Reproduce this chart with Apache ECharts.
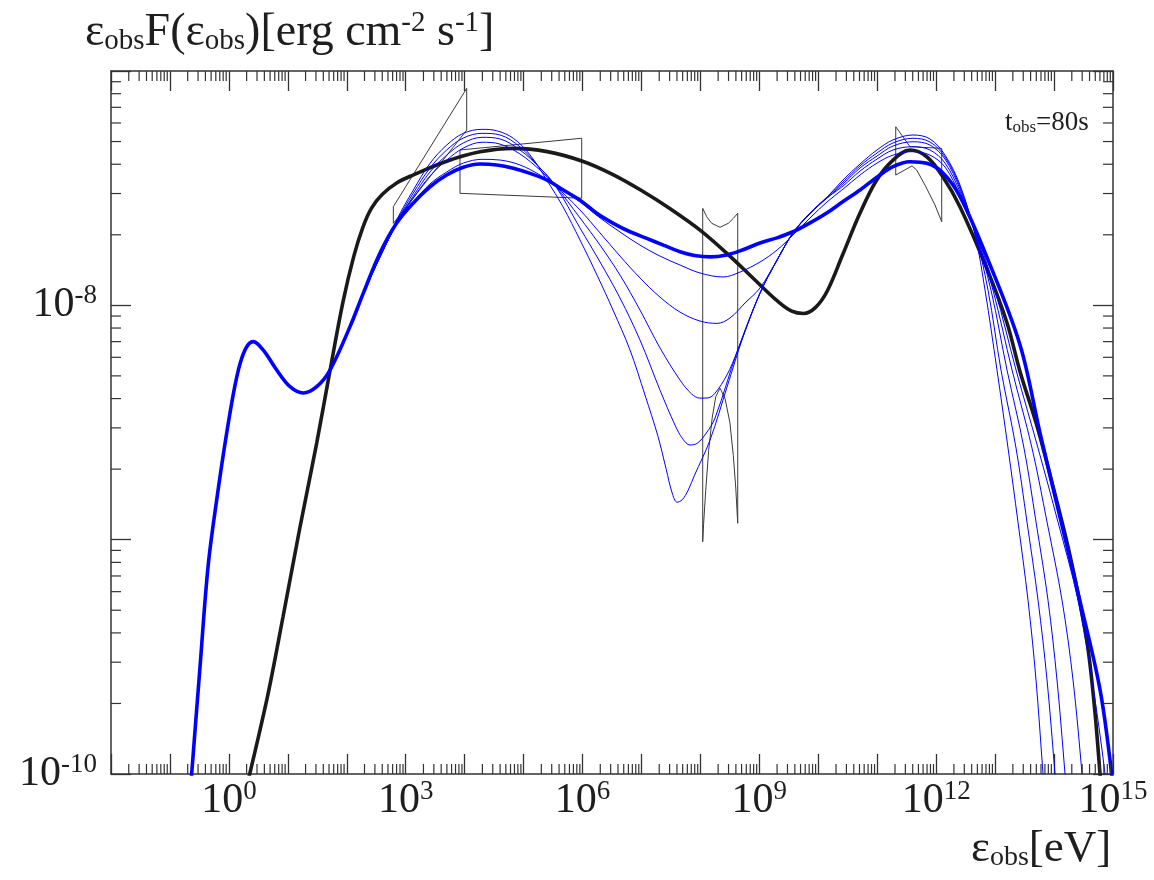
<!DOCTYPE html>
<html><head><meta charset="utf-8">
<script src="https://cdn.jsdelivr.net/npm/echarts@6/dist/echarts.min.js"></script>
<style>html,body{margin:0;padding:0;background:#fff}#c{width:1154px;height:880px}</style>
</head><body><div id="c"></div>
<script>
// ---- DATA: pairs of [log10(E_obs / eV), log10(E F(E) / erg cm^-2 s^-1)] ----
const blackThick = [[0.21,-10.15],[0.642,-9.685],[0.918,-9.330],[1.207,-8.946],[1.490,-8.588],[1.700,-8.300],[1.936,-7.985],[2.120,-7.790],[2.276,-7.665],[2.420,-7.585],[2.600,-7.527],[2.847,-7.478],[3.124,-7.444],[3.696,-7.385],[4.261,-7.345],[4.821,-7.330],[5.400,-7.344],[6.000,-7.385],[6.500,-7.440],[7.000,-7.510],[7.500,-7.590],[8.000,-7.680],[8.500,-7.790],[9.000,-7.910],[9.300,-7.980],[9.550,-8.025],[9.750,-8.035],[9.950,-8.010],[10.150,-7.940],[10.420,-7.780],[10.708,-7.606],[10.991,-7.465],[11.268,-7.380],[11.556,-7.337],[11.840,-7.366],[12.116,-7.452],[12.405,-7.580],[12.857,-7.841],[13.197,-8.071],[13.423,-8.283],[13.706,-8.511],[13.982,-8.773],[14.271,-9.068],[14.554,-9.429],[14.680,-9.700],[14.780,-10.0],[14.82,-10.15]];

const blueThick = [[-0.678,-10.15],[-0.490,-9.544],[-0.354,-9.117],[-0.207,-8.831],[-0.037,-8.545],[0.133,-8.306],[0.273,-8.191],[0.414,-8.155],[0.584,-8.191],[0.811,-8.276],[1.037,-8.347],[1.263,-8.374],[1.490,-8.347],[1.716,-8.276],[2.055,-8.091],[2.281,-7.948],[2.564,-7.777],[2.847,-7.649],[3.129,-7.563],[3.412,-7.494],[3.696,-7.444],[3.977,-7.411],[4.261,-7.397],[4.544,-7.401],[4.826,-7.415],[5.109,-7.437],[5.392,-7.465],[5.674,-7.508],[5.957,-7.551],[6.241,-7.607],[6.522,-7.650],[6.806,-7.686],[7.089,-7.714],[7.371,-7.743],[7.654,-7.771],[7.900,-7.787],[8.163,-7.793],[8.446,-7.785],[8.700,-7.765],[9.011,-7.734],[9.300,-7.712],[9.571,-7.686],[9.860,-7.648],[10.143,-7.606],[10.420,-7.557],[10.708,-7.508],[11.000,-7.452],[11.268,-7.408],[11.556,-7.387],[11.840,-7.394],[12.116,-7.435],[12.405,-7.536],[12.857,-7.792],[13.423,-8.169],[13.762,-8.545],[14.101,-8.904],[14.440,-9.262],[14.780,-9.640],[14.978,-10.0],[15.03,-10.15]];

const blueThin1 = [[2.281,-7.948],[2.847,-7.636],[3.129,-7.508],[3.412,-7.394],[3.696,-7.316],[3.977,-7.266],[4.295,-7.249],[4.544,-7.255],[4.826,-7.287],[5.109,-7.358],[5.392,-7.465],[5.669,-7.580],[5.957,-7.721],[6.246,-7.871],[6.517,-8.020],[6.806,-8.191],[7.060,-8.383],[7.281,-8.560],[7.420,-8.700],[7.520,-8.800],[7.603,-8.840],[7.690,-8.830],[7.790,-8.790],[7.900,-8.725],[8.163,-8.575],[8.451,-8.349],[8.723,-8.135],[9.011,-7.948],[9.300,-7.807],[9.571,-7.691],[9.860,-7.606],[10.148,-7.538],[10.419,-7.465],[10.708,-7.397],[10.996,-7.337],[11.268,-7.294],[11.607,-7.273],[11.895,-7.290],[12.150,-7.359],[12.405,-7.487],[12.659,-7.700],[12.829,-7.935],[13.032,-8.276],[13.219,-8.609],[13.388,-8.925],[13.558,-9.258],[13.694,-9.599],[13.813,-10.0],[13.86,-10.15]];

const blueThin2 = [[2.281,-7.948],[2.847,-7.644],[3.129,-7.521],[3.412,-7.414],[3.696,-7.337],[3.977,-7.286],[4.295,-7.266],[4.600,-7.273],[4.939,-7.324],[5.279,-7.414],[5.533,-7.487],[5.957,-7.670],[6.297,-7.815],[6.636,-7.969],[6.975,-8.148],[7.315,-8.362],[7.569,-8.511],[7.700,-8.570],[7.824,-8.596],[7.950,-8.588],[8.100,-8.545],[8.248,-8.481],[8.621,-8.199],[9.011,-7.948],[9.300,-7.807],[9.571,-7.691],[9.860,-7.606],[10.148,-7.538],[10.419,-7.474],[10.708,-7.405],[10.996,-7.350],[11.268,-7.307],[11.607,-7.287],[11.895,-7.303],[12.150,-7.367],[12.405,-7.495],[12.659,-7.691],[12.880,-7.935],[13.100,-8.276],[13.355,-8.609],[13.541,-8.925],[13.728,-9.258],[13.881,-9.599],[14.016,-10.0],[14.06,-10.15]];

const blueThin3 = [[2.281,-7.948],[2.847,-7.649],[3.129,-7.534],[3.412,-7.431],[3.696,-7.359],[3.977,-7.307],[4.295,-7.283],[4.600,-7.290],[4.939,-7.337],[5.279,-7.414],[5.533,-7.487],[5.957,-7.627],[6.297,-7.743],[6.636,-7.871],[6.975,-8.020],[7.315,-8.182],[7.654,-8.319],[7.850,-8.378],[7.993,-8.396],[8.130,-8.395],[8.248,-8.375],[8.451,-8.297],[8.621,-8.199],[9.011,-7.948],[9.300,-7.807],[9.571,-7.691],[9.860,-7.606],[10.148,-7.542],[10.419,-7.482],[10.708,-7.414],[10.996,-7.363],[11.268,-7.320],[11.607,-7.302],[11.895,-7.316],[12.150,-7.376],[12.405,-7.504],[12.659,-7.687],[12.930,-7.935],[13.202,-8.276],[13.490,-8.609],[13.694,-8.925],[13.897,-9.258],[14.050,-9.599],[14.186,-10.0],[14.23,-10.15]];

const blueThin4 = [[2.281,-7.948],[2.847,-7.649],[3.129,-7.542],[3.412,-7.448],[3.696,-7.380],[3.977,-7.329],[4.295,-7.304],[4.600,-7.312],[4.939,-7.354],[5.279,-7.423],[5.533,-7.487],[5.957,-7.593],[6.297,-7.691],[6.636,-7.790],[6.975,-7.883],[7.315,-7.965],[7.654,-8.029],[7.993,-8.067],[8.282,-8.077],[8.502,-8.054],[8.757,-7.990],[9.011,-7.926],[9.300,-7.807],[9.571,-7.691],[9.860,-7.610],[10.148,-7.542],[10.419,-7.491],[10.708,-7.427],[10.996,-7.376],[11.268,-7.337],[11.607,-7.323],[11.895,-7.337],[12.150,-7.393],[12.405,-7.516],[12.659,-7.683],[12.964,-7.935],[13.287,-8.276],[13.626,-8.609],[13.881,-8.925],[14.135,-9.258],[14.322,-9.599],[14.475,-10.0],[14.52,-10.15]];

const blueThin5 = [[2.281,-7.948],[2.847,-7.649],[3.129,-7.559],[3.412,-7.482],[3.696,-7.431],[3.977,-7.393],[4.295,-7.377],[4.600,-7.380],[4.939,-7.401],[5.279,-7.444],[5.533,-7.487],[5.957,-7.559],[6.297,-7.627],[6.636,-7.687],[6.975,-7.743],[7.315,-7.790],[7.654,-7.828],[7.993,-7.862],[8.384,-7.879],[8.672,-7.858],[9.011,-7.815],[9.300,-7.764],[9.571,-7.700],[9.860,-7.627],[10.148,-7.559],[10.419,-7.504],[10.708,-7.444],[10.996,-7.393],[11.268,-7.359],[11.607,-7.344],[11.895,-7.359],[12.150,-7.410],[12.405,-7.529],[12.659,-7.679],[12.998,-7.935],[13.355,-8.276],[13.728,-8.609],[14.067,-8.925],[14.407,-9.258],[14.644,-9.599],[14.865,-10.0],[14.91,-10.15]];

// observational butterflies / boxes (closed outlines)
const xrayButterfly = [[2.790,-7.650],[2.790,-7.579],[4.035,-7.074],[4.035,-7.252],[2.790,-7.650]];
const hardXBox = [[3.921,-7.337],[5.986,-7.287],[5.986,-7.543],[3.921,-7.522],[3.921,-7.337]];
const latButterfly = [[8.039,-7.586],[8.107,-7.622],[8.192,-7.650],[8.333,-7.667],[8.473,-7.650],[8.558,-7.629],[8.633,-7.607],[8.633,-8.930],[8.600,-8.780],[8.558,-8.640],[8.500,-8.500],[8.420,-8.400],[8.333,-8.353],[8.260,-8.390],[8.200,-8.480],[8.140,-8.620],[8.090,-8.790],[8.055,-8.930],[8.039,-9.009],[8.039,-7.586]];
const tevButterfly = [[11.314,-7.238],[11.556,-7.323],[12.094,-7.330],[12.094,-7.643],[11.980,-7.572],[11.811,-7.487],[11.670,-7.423],[11.590,-7.405],[11.314,-7.444],[11.314,-7.238]];

const xLabelDecades = [0, 3, 6, 9, 12, 15];
const yLabelDecades = [-10, -8];
const xDecadeRange = [-2, 15];
const yDecadeRange = [-10, -7];

// ---- chart ----
const X_MIN = Math.pow(10, xDecadeRange[0]), X_MAX = Math.pow(10, xDecadeRange[1]);
const Y_MIN = Math.pow(10, yDecadeRange[0]), Y_MAX = Math.pow(10, yDecadeRange[1]);
const AX = '#333';
const FONT = 'Liberation Serif';
const TXT = '#1e1e1e';
const toPts = arr => arr.map(p => [Math.pow(10, p[0]), Math.pow(10, p[1])]);

const xMinor = [], yMinor = [];
for (let k = xDecadeRange[0]; k < xDecadeRange[1]; k++) for (let m = 2; m <= 9; m++) xMinor.push([m * Math.pow(10, k), Y_MIN]);
for (let k = yDecadeRange[0]; k < yDecadeRange[1]; k++) for (let m = 2; m <= 9; m++) yMinor.push([X_MIN, m * Math.pow(10, k)]);
const MINOR = 10, MAJOR = 20;

function rich(size) {
  const s = Math.round(size * 0.62);
  return {
    t: { fontFamily: FONT, fontSize: size, fontWeight: 'normal', color: TXT },
    b: { fontFamily: FONT, fontSize: s, fontWeight: 'normal', color: TXT, padding: [Math.round(size * 0.38), 0, 0, 0] },
    p: { fontFamily: FONT, fontSize: s, fontWeight: 'normal', color: TXT, padding: [0, 0, Math.round(size * 0.42), 0] }
  };
}

function axisCommon(extra) {
  return Object.assign({
    type: 'log', logBase: 10, interval: 1,
    axisLine: { show: true, lineStyle: { color: AX, width: 1.5 } },
    axisTick: { show: true, inside: true, length: MAJOR, lineStyle: { color: AX, width: 1.3 } },
    splitLine: { show: false }, minorTick: { show: false }, minorSplitLine: { show: false }
  }, extra);
}

const lineSeries = (name, arr, color, width) => ({
  name, type: 'line', data: toPts(arr), showSymbol: false, symbol: 'none',
  smooth: 0.35, clip: true, lineStyle: { color, width }, itemStyle: { color }, z: 3
});
const shapeSeries = (name, arr) => ({
  name, type: 'line', data: toPts(arr), showSymbol: false, symbol: 'none',
  smooth: false, clip: true, lineStyle: { color: '#3a3a3a', width: 1 }, z: 2
});

const chart = echarts.init(document.getElementById('c'), null, { renderer: 'canvas' });
chart.setOption({
  animation: false,
  backgroundColor: '#fff',
  title: [
    { text: '{t|ε}{b|obs}{t|F(ε}{b|obs}{t|)[erg cm}{p|-2}{t| s}{p|-1}{t|]}', left: 80, top: 4, textStyle: { fontWeight: 'normal', rich: rich(46) } },
    { text: '{t|ε}{b|obs}{t|[eV]}', left: 966, top: 822, textStyle: { fontWeight: 'normal', rich: rich(45) } },
    { text: '{t|t}{b|obs}{t|=80s}', left: 1000, top: 104, textStyle: { fontWeight: 'normal', rich: rich(27) } }
  ],
  grid: { left: 111, right: 41, top: 71, bottom: 106, containLabel: false, outerBoundsMode: 'none' },
  xAxis: [
    axisCommon({ position: 'bottom', min: X_MIN, max: X_MAX,
      axisLabel: { margin: 4, fontFamily: FONT, fontSize: 42, color: TXT,
        formatter: v => { const e = Math.round(Math.log10(v)); return xLabelDecades.includes(e) ? '10{s|' + e + '}' : ''; },
        rich: { s: { fontFamily: FONT, fontSize: 27, color: TXT, padding: [0, 0, 18, 0] } } } }),
    axisCommon({ position: 'top', min: X_MIN, max: X_MAX, axisLabel: { show: false } })
  ],
  yAxis: [
    axisCommon({ position: 'left', min: Y_MIN, max: Y_MAX,
      axisLabel: { margin: 14, fontFamily: FONT, fontSize: 42, color: TXT,
        formatter: v => { const e = Math.round(Math.log10(v)); return yLabelDecades.includes(e) ? '10{s|' + e + '}' : ''; },
        rich: { s: { fontFamily: FONT, fontSize: 27, color: TXT, padding: [0, 0, 18, 0] } } } }),
    axisCommon({ position: 'right', min: Y_MIN, max: Y_MAX, axisLabel: { show: false } })
  ],
  series: [
    shapeSeries('X-ray butterfly', xrayButterfly),
    shapeSeries('hard X-ray box', hardXBox),
    shapeSeries('LAT butterfly', latButterfly),
    shapeSeries('TeV butterfly', tevButterfly),
    lineSeries('black', blackThick, '#1a1a1a', 3.6),
    lineSeries('thin1', blueThin1, '#0000ff', 1),
    lineSeries('thin2', blueThin2, '#0000ff', 1),
    lineSeries('thin3', blueThin3, '#0000ff', 1),
    lineSeries('thin4', blueThin4, '#0000ff', 1),
    lineSeries('thin5', blueThin5, '#0000ff', 1),
    lineSeries('blue', blueThick, '#0000ff', 3.6),
    { type: 'custom', silent: true, data: xMinor, z: 5,
      renderItem: (params, api) => {
        const v = api.value(0);
        const b = api.coord([v, Y_MIN]), t = api.coord([v, Y_MAX]);
        return { type: 'group', children: [
          { type: 'line', shape: { x1: b[0], y1: b[1], x2: b[0], y2: b[1] - MINOR }, style: { stroke: AX, lineWidth: 1.2 } },
          { type: 'line', shape: { x1: t[0], y1: t[1], x2: t[0], y2: t[1] + MINOR }, style: { stroke: AX, lineWidth: 1.2 } }
        ] };
      } },
    { type: 'custom', silent: true, data: yMinor, z: 5,
      renderItem: (params, api) => {
        const v = api.value(1);
        const l = api.coord([X_MIN, v]), r = api.coord([X_MAX, v]);
        return { type: 'group', children: [
          { type: 'line', shape: { x1: l[0], y1: l[1], x2: l[0] + MINOR, y2: l[1] }, style: { stroke: AX, lineWidth: 1.2 } },
          { type: 'line', shape: { x1: r[0], y1: r[1], x2: r[0] - MINOR, y2: r[1] }, style: { stroke: AX, lineWidth: 1.2 } }
        ] };
      } }
  ]
});
</script></body></html>
